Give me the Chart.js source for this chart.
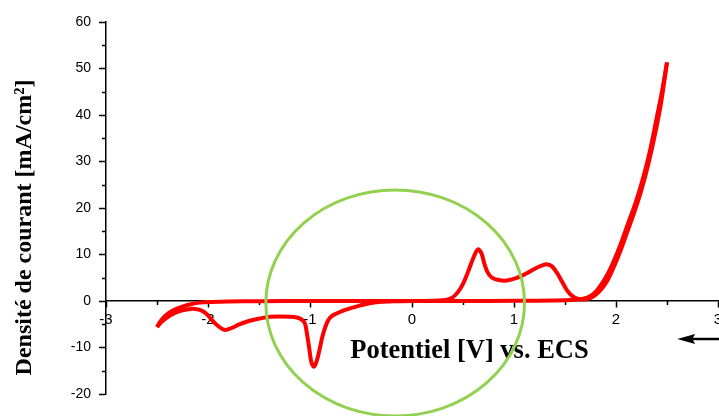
<!DOCTYPE html>
<html>
<head>
<meta charset="utf-8">
<script src="https://cdn.jsdelivr.net/npm/chart.js@4.4.1/dist/chart.umd.min.js"></script>
<style>
  html, body { margin: 0; padding: 0; background: #ffffff; }
  #wrap { width: 719px; height: 416px; }
</style>
</head>
<body>
<div id="wrap"><canvas id="cv" width="719" height="416"></canvas></div>
<script>
// Cyclic voltammogram: potential (V vs. ECS) and current density (mA/cm²)

// Forward scan, -2.5 V -> +2.5 V
const forwardPotential = [
  -2.50, -2.47, -2.43, -2.38, -2.32, -2.25, -2.17, -2.08, -1.97, -1.80, -1.50, -1.00,
  -0.50, 0.00, 0.20, 0.30, 0.36, 0.40, 0.45, 0.50, 0.55, 0.60, 0.646, 0.68, 0.71,
  0.74, 0.78, 0.85, 0.93, 1.02, 1.11, 1.20, 1.27, 1.32, 1.37, 1.42, 1.47, 1.52,
  1.57, 1.62, 1.68, 1.73, 1.78, 1.83, 1.88, 1.93, 1.98, 2.04, 2.10, 2.17, 2.24,
  2.31, 2.38, 2.44, 2.50
];
const forwardCurrent = [
  -5.6, -4.5, -3.4, -2.5, -1.8, -1.2, -0.7, -0.35, -0.2, -0.1, -0.05, 0.0,
  0.0, 0.0, 0.05, 0.15, 0.4, 0.8, 1.9, 3.7, 6.3, 9.2, 11.1, 10.3, 8.0,
  6.2, 5.1, 4.5, 4.4, 4.9, 5.8, 6.9, 7.6, 7.9, 7.5, 6.1, 4.2, 2.3,
  1.1, 0.5, 0.3, 0.5, 1.0, 1.9, 3.2, 5.0, 7.4, 10.6, 14.2, 18.5, 23.2,
  28.8, 35.6, 42.4, 51.3
];

// Reverse scan, +2.5 V -> -2.5 V
const reversePotential = [
  2.50, 2.45, 2.40, 2.33, 2.26, 2.19, 2.12, 2.05, 1.99, 1.93, 1.87, 1.81, 1.75,
  1.68, 1.60, 1.40, 1.00, 0.50, 0.00, -0.20, -0.29, -0.37, -0.45, -0.53, -0.61,
  -0.68, -0.74, -0.79, -0.82, -0.85, -0.88, -0.90, -0.93, -0.96, -0.985, -1.01,
  -1.03, -1.05, -1.08, -1.12, -1.19, -1.39, -1.50, -1.60, -1.70, -1.78, -1.84,
  -1.90, -1.95, -2.00, -2.05, -2.10, -2.17, -2.25, -2.33, -2.40, -2.46, -2.50
];
const reverseCurrent = [
  51.3, 45.0, 39.5, 32.0, 26.0, 21.0, 16.8, 12.5, 9.2, 6.3, 4.0, 2.2, 1.1,
  0.5, 0.25, 0.1, 0.05, 0.0, -0.02, -0.08, -0.15, -0.35, -0.65, -1.1, -1.6,
  -2.1, -2.7, -3.3, -4.1, -5.6, -7.8, -9.8, -12.6, -14.1, -13.3, -9.8,
  -7.0, -4.8, -4.0, -3.6, -3.4, -3.4, -3.8, -4.3, -5.1, -5.9, -6.2,
  -5.4, -4.4, -3.1, -2.2, -1.8, -1.7, -2.0, -2.6, -3.5, -4.6, -5.6
];

// Axis ticks
const potentialTicks = [-3, -2, -1, 0, 1, 2, 3];
const potentialMinorTicks = [-2.5, -1.5, -0.5, 0.5, 1.5, 2.5];
const currentTicks = [-20, -10, 0, 10, 20, 30, 40, 50, 60];
const currentMinorTicks = [-15, -5, 5, 15, 25, 35, 45, 55];

const xTitle = 'Potentiel [V] vs. ECS';
const yTitle = 'Densité de courant [mA/cm²]';

function toPoints(xs, ys) {
  return xs.map((x, i) => ({ x: x, y: ys[i] }));
}

// Minor ticks, axis titles, scan-direction arrow and highlight ellipse
const decorations = {
  id: 'decorations',
  beforeDatasetsDraw(chart) {
    const ctx = chart.ctx;
    const xs = chart.scales.x, ys = chart.scales.y;
    const x0 = ys.getPixelForValue(0);
    const left = chart.chartArea.left;
    ctx.save();
    ctx.strokeStyle = '#000';
    ctx.lineWidth = 1.5;
    ctx.beginPath();
    potentialMinorTicks.forEach(v => {
      const px = Math.round(xs.getPixelForValue(v)) + 0.5;
      ctx.moveTo(px, x0);
      ctx.lineTo(px, x0 + 4);
    });
    currentMinorTicks.forEach(v => {
      const py = Math.round(ys.getPixelForValue(v)) + 0.5;
      ctx.moveTo(left, py);
      ctx.lineTo(left - 4, py);
    });
    ctx.stroke();
    ctx.restore();
  },
  afterDraw(chart) {
    const ctx = chart.ctx;
    const xs = chart.scales.x, ys = chart.scales.y;
    ctx.save();

    // axis titles
    ctx.fillStyle = '#000';
    ctx.font = 'bold 26.5px "Liberation Serif", "Times New Roman", serif';
    ctx.textAlign = 'center';
    ctx.textBaseline = 'alphabetic';
    ctx.fillText(xTitle, 469.5, 358);

    ctx.save();
    ctx.translate(25, 227.5);
    ctx.rotate(-Math.PI / 2);
    ctx.font = 'bold 24px "Liberation Serif", "Times New Roman", serif';
    ctx.textBaseline = 'middle';
    ctx.fillText(yTitle, 0, 0);
    ctx.restore();

    // scan-direction arrow
    const ay = Math.round(ys.getPixelForValue(-8.2));
    const tipX = xs.getPixelForValue(2.6);
    ctx.strokeStyle = '#000';
    ctx.lineWidth = 2.5;
    ctx.beginPath();
    ctx.moveTo(tipX + 10, ay);
    ctx.lineTo(chart.width, ay);
    ctx.stroke();
    ctx.beginPath();
    ctx.moveTo(tipX, ay);
    ctx.lineTo(tipX + 18, ay - 5);
    ctx.lineTo(tipX + 15, ay);
    ctx.lineTo(tipX + 18, ay + 5);
    ctx.closePath();
    ctx.fillStyle = '#000';
    ctx.fill();

    // highlight ellipse around the cathodic peak region
    const cx = xs.getPixelForValue(-0.165);
    const cy = ys.getPixelForValue(-0.43);
    const rx = xs.getPixelForValue(-0.165 + 1.268) - cx;
    const ry = cy - ys.getPixelForValue(-0.43 + 24.3);
    ctx.strokeStyle = '#92d050';
    ctx.lineWidth = 3;
    ctx.beginPath();
    ctx.ellipse(cx, cy, rx, ry, 0, 0, Math.PI * 2);
    ctx.stroke();
    ctx.restore();
  }
};

new Chart(document.getElementById('cv'), {
  type: 'scatter',
  data: {
    datasets: [
      {
        label: 'aller',
        data: toPoints(forwardPotential, forwardCurrent),
        showLine: true,
        borderColor: '#ff0000',
        borderWidth: 4,
        pointRadius: 0,
        tension: 0.35,
        fill: false
      },
      {
        label: 'retour',
        data: toPoints(reversePotential, reverseCurrent),
        showLine: true,
        borderColor: '#ff0000',
        borderWidth: 4,
        pointRadius: 0,
        tension: 0.35,
        fill: false
      }
    ]
  },
  options: {
    responsive: false,
    animation: false,
    devicePixelRatio: 1,
    layout: { padding: { left: 0, right: 1, top: 22, bottom: 22 } },
    plugins: {
      legend: { display: false },
      tooltip: { enabled: false }
    },
    scales: {
      x: {
        type: 'linear',
        position: { y: 0 },
        min: -3,
        max: 3,
        afterBuildTicks(scale) { scale.ticks = potentialTicks.map(v => ({ value: v })); },
        afterFit(scale) { scale.paddingLeft = 0; scale.paddingRight = 0; },
        ticks: {
          autoSkip: false,
          maxRotation: 0,
          padding: 4,
          color: '#000',
          font: { family: '"Liberation Sans", Arial, sans-serif', size: 15 },
          callback: v => String(v)
        },
        grid: { drawOnChartArea: false, drawTicks: true, tickLength: 6, tickColor: '#000', tickWidth: 1.5 },
        border: { display: true, color: '#000', width: 1.5 }
      },
      y: {
        type: 'linear',
        position: 'left',
        min: -20,
        max: 60,
        afterBuildTicks(scale) { scale.ticks = currentTicks.map(v => ({ value: v })); },
        afterFit(scale) { scale.width = 106; },
        ticks: {
          padding: 8,
          color: '#000',
          font: { family: '"Liberation Sans", Arial, sans-serif', size: 14 },
          callback: v => String(v)
        },
        grid: { drawOnChartArea: false, drawTicks: true, tickLength: 7, tickColor: '#000', tickWidth: 1.5 },
        border: { display: true, color: '#000', width: 1.5 }
      }
    }
  },
  plugins: [decorations]
});
</script>
</body>
</html>
